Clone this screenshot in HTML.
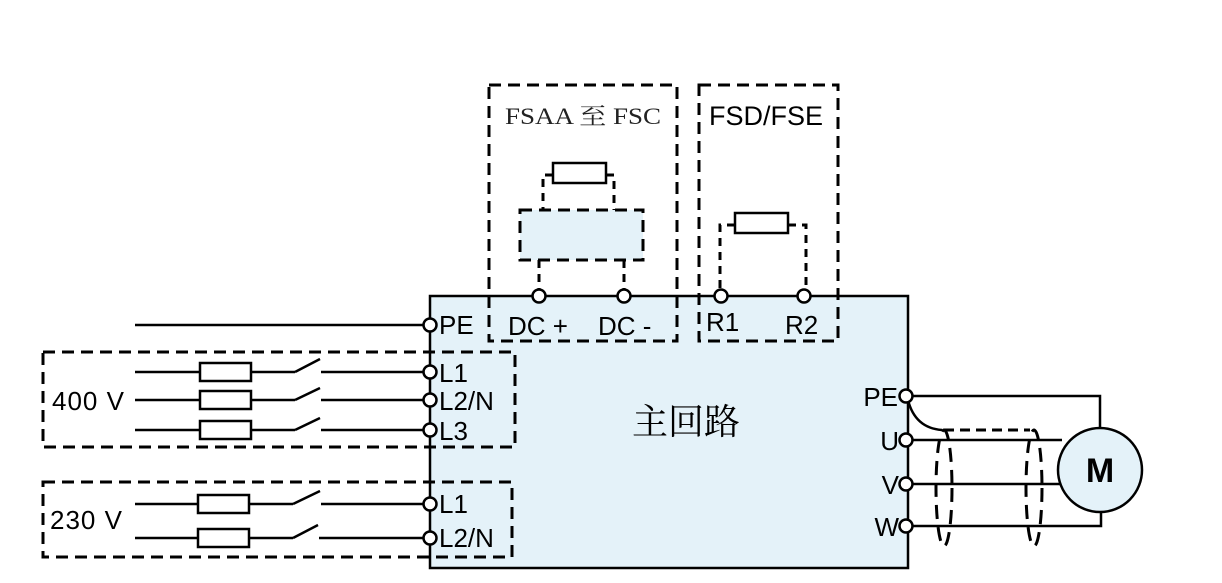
<!DOCTYPE html>
<html><head><meta charset="utf-8"><style>body{margin:0;background:#fff}svg{display:block}</style></head><body>
<svg width="1222" height="583" xmlns="http://www.w3.org/2000/svg" font-family="Liberation Sans, sans-serif">
<rect x="430" y="296" width="478" height="272" fill="#e4f2f9" stroke="#000" stroke-width="2.5"/>
<g fill="none" stroke="#000" stroke-width="2.5">
<line x1="135" y1="325" x2="425" y2="325"/>
<line x1="135" y1="372" x2="200" y2="372"/><rect x="200" y="363" width="51" height="18"/><line x1="251" y1="372" x2="295" y2="372"/><line x1="295" y1="372" x2="320" y2="359"/><line x1="321" y1="372" x2="425" y2="372"/>
<line x1="135" y1="400" x2="200" y2="400"/><rect x="200" y="391" width="51" height="18"/><line x1="251" y1="400" x2="295" y2="400"/><line x1="295" y1="400" x2="320" y2="388"/><line x1="321" y1="400" x2="425" y2="400"/>
<line x1="135" y1="430" x2="200" y2="430"/><rect x="200" y="421" width="51" height="18"/><line x1="251" y1="430" x2="295" y2="430"/><line x1="295" y1="430" x2="320" y2="418"/><line x1="321" y1="430" x2="425" y2="430"/>
<line x1="135" y1="504" x2="198" y2="504"/><rect x="198" y="495" width="51" height="18"/><line x1="249" y1="504" x2="293" y2="504"/><line x1="293" y1="504" x2="320" y2="491"/><line x1="321" y1="504" x2="425" y2="504"/>
<line x1="135" y1="538" x2="198" y2="538"/><rect x="198" y="529" width="51" height="18"/><line x1="249" y1="538" x2="293" y2="538"/><line x1="293" y1="538" x2="318" y2="525"/><line x1="319" y1="538" x2="425" y2="538"/>
<polyline points="911,396 1100,396 1100,428"/>
<line x1="911" y1="440" x2="1062" y2="440"/>
<line x1="911" y1="484" x2="1060" y2="484"/>
<polyline points="911,526 1101,526 1101,512"/>
<path d="M908,400 Q915,428 942,430"/>
<circle cx="1100" cy="470" r="42" fill="#e4f2f9"/>
<rect x="553" y="163" width="53" height="20" fill="#fff"/>
<rect x="735" y="213" width="53" height="20" fill="#fff"/>
</g>
<g fill="none" stroke="#000" stroke-width="3" stroke-dasharray="12,7">
<rect x="489" y="85" width="188" height="256"/>
<rect x="699" y="85" width="139" height="256"/>
<rect x="43" y="352" width="472" height="95"/>
<rect x="43" y="482" width="469" height="75"/>
<rect x="520" y="210" width="123" height="50" fill="#e4f2f9"/>
<polyline points="553,175 543,175 543,210" stroke-dasharray="8,6"/>
<polyline points="606,175 614,175 614,210" stroke-dasharray="8,6"/>
<line x1="539" y1="260" x2="539" y2="292" stroke-dasharray="8,6"/>
<line x1="624" y1="260" x2="624" y2="292" stroke-dasharray="8,6"/>
<polyline points="735,225 720,225 720,292" stroke-dasharray="8,6"/>
<polyline points="788,225 806,225 806,292" stroke-dasharray="8,6"/>
<line x1="944" y1="430" x2="1030" y2="430" stroke-dasharray="10,6"/>
<ellipse cx="944" cy="488" rx="8" ry="58" stroke-dasharray="14,8"/>
<ellipse cx="1034" cy="488" rx="8" ry="58" stroke-dasharray="14,8"/>
</g>
<g fill="#fff" stroke="#000" stroke-width="2.5">
<circle cx="430" cy="325" r="6.5"/><circle cx="430" cy="372" r="6.5"/><circle cx="430" cy="400" r="6.5"/><circle cx="430" cy="430" r="6.5"/><circle cx="430" cy="504" r="6.5"/><circle cx="430" cy="538" r="6.5"/>
<circle cx="539" cy="296" r="6.5"/><circle cx="624" cy="296" r="6.5"/><circle cx="721" cy="296" r="6.5"/><circle cx="804" cy="296" r="6.5"/>
<circle cx="906" cy="396" r="6.5"/><circle cx="906" cy="440" r="6.5"/><circle cx="906" cy="484" r="6.5"/><circle cx="906" cy="526" r="6.5"/>
</g>
<g font-size="26" fill="#000">
<text x="439" y="334">PE</text>
<text x="508" y="335">DC +</text><text x="598" y="335">DC -</text>
<text x="706" y="331">R1</text><text x="785" y="334">R2</text>
<text x="439" y="382">L1</text><text x="439" y="410">L2/N</text><text x="439" y="440">L3</text>
<text x="439" y="513">L1</text><text x="439" y="547">L2/N</text>
<text x="52" y="410" letter-spacing="1">400 V</text><text x="50" y="529" letter-spacing="1">230 V</text>
<text x="709" y="125" font-size="27">FSD/FSE</text>
<text x="898" y="406" text-anchor="end">PE</text>
<text x="899" y="450" text-anchor="end">U</text>
<text x="899" y="494" text-anchor="end">V</text>
<text x="899" y="536" text-anchor="end">W</text>
<text x="1100" y="482" text-anchor="middle" font-weight="bold" font-size="34">M</text>
</g>
<text x="505" y="124" font-family="Liberation Serif, Noto Serif CJK SC, serif" font-size="23" fill="#222" textLength="156" lengthAdjust="spacingAndGlyphs">FSAA 至 FSC</text>
<text x="686" y="434" text-anchor="middle" font-family="Liberation Serif, Noto Serif CJK SC, serif" font-size="36" fill="#000">主回路</text>
</svg>
</body></html>
